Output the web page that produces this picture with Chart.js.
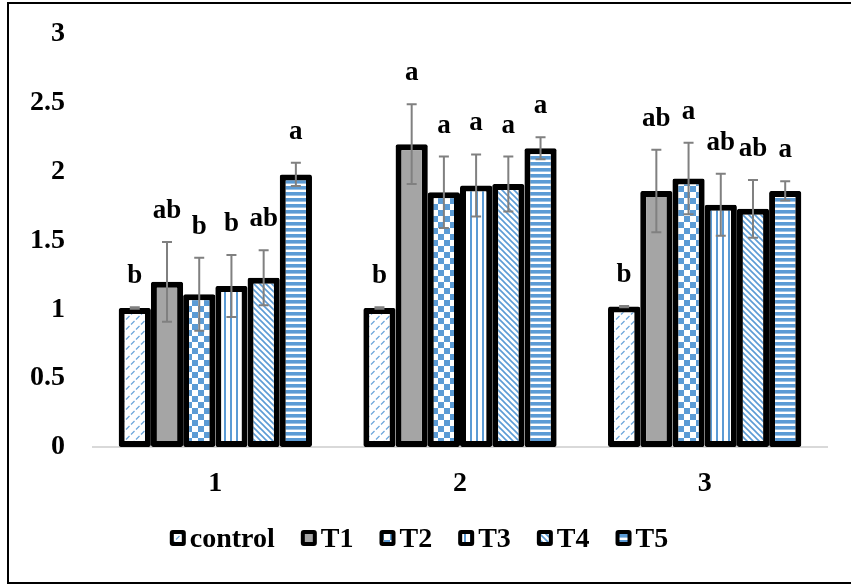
<!DOCTYPE html>
<html>
<head>
<meta charset="utf-8">
<script src="https://cdn.jsdelivr.net/npm/chart.js@4"></script>
<style>
  html, body { margin: 0; padding: 0; background: #fff; overflow: hidden; }
  #wrap { position: relative; width: 851px; height: 585px; }
  #frame { position: absolute; left: 7px; top: 2px; width: 900px; height: 578px; border: 2px solid #000; pointer-events: none; }
  canvas { position: absolute; left: 0; top: 0; }
</style>
</head>
<body>
<div id="wrap">
  <canvas id="chart" width="851" height="585"></canvas>
  <div id="frame"></div>
</div>
<script>
const categories = ['1', '2', '3'];
const seriesNames = ['control', 'T1', 'T2', 'T3', 'T4', 'T5'];

const controlVals = [1.01, 1.01, 1.02];
const t1Vals = [1.20, 2.20, 1.86];
const t2Vals = [1.11, 1.85, 1.95];
const t3Vals = [1.17, 1.90, 1.76];
const t4Vals = [1.23, 1.91, 1.73];
const t5Vals = [1.98, 2.17, 1.86];

const controlErr = [0.005, 0.005, 0.005];
const t1Err = [0.29, 0.29, 0.30];
const t2Err = [0.265, 0.26, 0.26];
const t3Err = [0.225, 0.225, 0.225];
const t4Err = [0.20, 0.20, 0.21];
const t5Err = [0.085, 0.08, 0.07];

const controlSig = ['b', 'b', 'b'];
const t1Sig = ['ab', 'a', 'ab'];
const t2Sig = ['b', 'a', 'a'];
const t3Sig = ['b', 'a', 'ab'];
const t4Sig = ['ab', 'a', 'ab'];
const t5Sig = ['a', 'a', 'a'];

const yTicks = [0, 0.5, 1, 1.5, 2, 2.5, 3];

const BLUE = '#5b9bd5';
const FONT = "'Times New Roman', 'Liberation Serif', serif";

const makePattern = (w, h, draw) => {
  const c = document.createElement('canvas');
  c.width = w;
  c.height = h;
  const g = c.getContext('2d');
  g.fillStyle = '#fff';
  g.fillRect(0, 0, w, h);
  draw(g, w, h);
  return g.createPattern(c, 'repeat');
};

const patterns = [
  // control: small dashed upward diagonals
  makePattern(10, 10, (g) => {
    g.strokeStyle = '#6fa8dc';
    g.lineWidth = 1.3;
    g.beginPath();
    g.moveTo(1, 4.5); g.lineTo(4.5, 1);
    g.moveTo(6, 9.5); g.lineTo(9.5, 6);
    g.stroke();
  }),
  '#a5a5a5',
  // T2: checkerboard
  makePattern(12, 12, (g) => {
    g.fillStyle = BLUE;
    g.fillRect(0, 0, 6, 6);
    g.fillRect(6, 6, 6, 6);
  }),
  // T3: vertical stripes
  makePattern(6, 6, (g) => {
    g.fillStyle = BLUE;
    g.fillRect(2, 0, 2, 6);
  }),
  // T4: downward diagonal stripes
  makePattern(6, 6, (g) => {
    g.strokeStyle = BLUE;
    g.lineWidth = 1.6;
    g.beginPath();
    g.moveTo(-1, -1); g.lineTo(7, 7);
    g.moveTo(-1, 5); g.lineTo(1, 7);
    g.moveTo(5, -1); g.lineTo(7, 1);
    g.stroke();
  }),
  // T5: horizontal stripes
  makePattern(6, 6, (g) => {
    g.fillStyle = BLUE;
    g.fillRect(0, 0, 6, 3.6);
  })
];

const valueSets = [controlVals, t1Vals, t2Vals, t3Vals, t4Vals, t5Vals];
const errorSets = [controlErr, t1Err, t2Err, t3Err, t4Err, t5Err];
const sigSets = [controlSig, t1Sig, t2Sig, t3Sig, t4Sig, t5Sig];

// error bars + significance letters
const errorBarPlugin = {
  id: 'errorBars',
  afterDatasetsDraw(chart) {
    const { ctx, scales: { y } } = chart;
    ctx.save();
    chart.data.datasets.forEach((ds, di) => {
      const meta = chart.getDatasetMeta(di);
      meta.data.forEach((bar, i) => {
        const v = ds.data[i];
        const e = errorSets[di][i];
        const top = y.getPixelForValue(v + e);
        const bot = y.getPixelForValue(v - e);
        ctx.strokeStyle = '#808080';
        ctx.lineWidth = 2;
        ctx.beginPath();
        ctx.moveTo(bar.x, top); ctx.lineTo(bar.x, bot);
        ctx.moveTo(bar.x - 5, top); ctx.lineTo(bar.x + 5, top);
        ctx.moveTo(bar.x - 5, bot); ctx.lineTo(bar.x + 5, bot);
        ctx.stroke();

        ctx.fillStyle = '#000';
        ctx.font = `bold 27px ${FONT}`;
        ctx.textAlign = 'center';
        ctx.textBaseline = 'alphabetic';
        ctx.fillText(sigSets[di][i], bar.x, Math.min(top, y.getPixelForValue(v)) - 24);
      });
    });
    ctx.restore();
  }
};

// legend drawn by hand so the marker/text gap matches the original
const legendPlugin = {
  id: 'customLegend',
  afterDraw(chart) {
    const { ctx } = chart;
    ctx.save();
    ctx.font = `bold 28px ${FONT}`;
    const box = 16, gap = 4, spacing = 26;
    const widths = seriesNames.map(n => box + gap + ctx.measureText(n).width);
    const total = widths.reduce((a, b) => a + b, 0) + spacing * (widths.length - 1);
    let x = 419 - total / 2;
    const cy = 538;
    seriesNames.forEach((name, i) => {
      ctx.fillStyle = '#000';
      ctx.beginPath();
      ctx.roundRect(x, cy - box / 2, box, box, 3);
      ctx.fill();
      ctx.fillStyle = patterns[i];
      ctx.fillRect(x + 4, cy - box / 2 + 4, box - 8, box - 8);
      ctx.fillStyle = '#000';
      ctx.textAlign = 'left';
      ctx.textBaseline = 'alphabetic';
      ctx.fillText(name, x + box + gap, 547);
      x += widths[i] + spacing;
    });
    ctx.restore();
  }
};

Chart.defaults.font.family = FONT;
Chart.defaults.font.weight = 'bold';
Chart.defaults.color = '#000';

new Chart(document.getElementById('chart'), {
  type: 'bar',
  data: {
    labels: categories,
    datasets: seriesNames.map((name, i) => ({
      label: name,
      data: valueSets[i],
      backgroundColor: patterns[i],
      borderColor: '#000',
      borderWidth: 6,
      borderSkipped: false,
      borderRadius: 2,
      categoryPercentage: 0.79,
      barPercentage: 1.0
    }))
  },
  options: {
    responsive: false,
    animation: false,
    events: [],
    layout: { padding: { top: 34, right: 24, bottom: 88, left: 0 } },
    plugins: {
      legend: { display: false },
      tooltip: { enabled: false }
    },
    scales: {
      x: {
        grid: { display: false },
        border: { display: true, color: '#d9d9d9', width: 2 },
        ticks: { font: { size: 28, weight: 'bold' }, padding: 12 },
        afterFit(scale) { scale.height = 50; }
      },
      y: {
        min: 0,
        max: 3,
        // tick marks hidden, but their length pushes the labels left
        grid: { display: false, drawTicks: true, tickLength: 26 },
        border: { display: false },
        afterBuildTicks(scale) { scale.ticks = yTicks.map(v => ({ value: v })); },
        ticks: {
          font: { size: 28, weight: 'bold' },
          padding: 2,
          callback: (v) => String(v)
        },
        afterFit(scale) { scale.width = 93; }
      }
    }
  },
  plugins: [errorBarPlugin, legendPlugin]
});
</script>
</body>
</html>
